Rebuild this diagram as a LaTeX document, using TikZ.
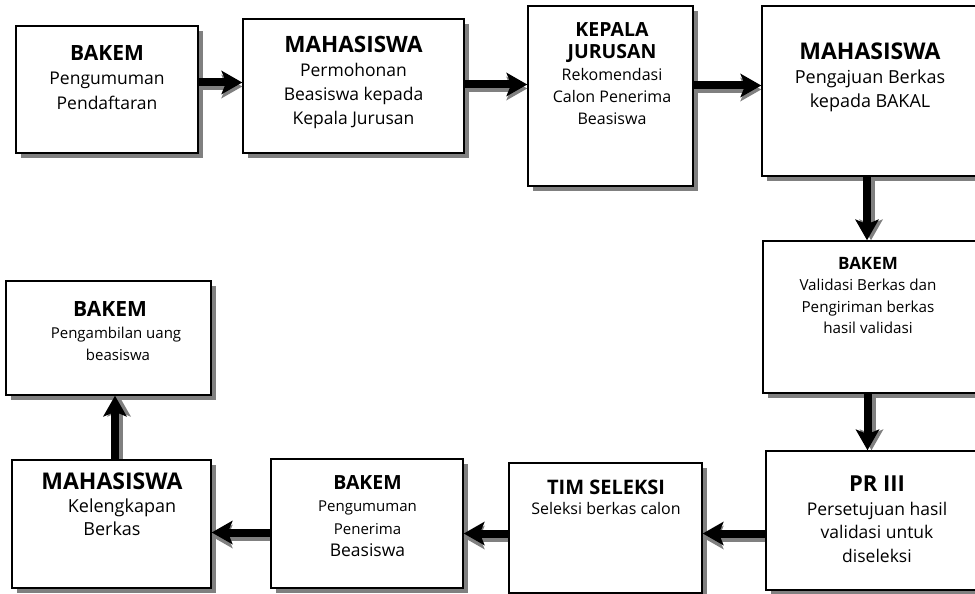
\documentclass[tikz,border=0pt]{standalone}
\usepackage{fontspec}
\setmainfont{Open Sans}
\usetikzlibrary{arrows.meta,shadows}
\newcommand\fsz[2]{\fontsize{#1}{#2}\selectfont}
\tikzset{
  stepbox/.style={draw=black, line width=1.6pt, fill=white, inner sep=0pt,
    drop shadow={shadow xshift=5pt, shadow yshift=-5pt, fill=black!50, opacity=1}},
  txt/.style={align=center, inner sep=0pt, anchor=north},
  flow/.style={line width=8pt,
    -{Stealth[length=21pt 0, width=24pt 0, inset=5pt 0, line width=0pt 0]}},
  flowshade/.style={flow, draw=black!50, fill=black!50, xshift=4pt, yshift=-4pt},
}
\begin{document}
\begin{tikzpicture}[x=1pt, y=-1pt]
\useasboundingbox (0,0) rectangle (975,594);
\clip (0,0) rectangle (975,594);

% process boxes
\node[stepbox, minimum width=182pt, minimum height=127pt] (b1)  at (107,89.5) {};
\node[stepbox, minimum width=221pt, minimum height=134pt] (b2)  at (353.5,86) {};
\node[stepbox, minimum width=165pt, minimum height=180pt] (b3)  at (610.5,96) {};
\node[stepbox, minimum width=216pt, minimum height=170pt] (b4)  at (870,91) {};
\node[stepbox, minimum width=214pt, minimum height=152pt] (b5)  at (870,317) {};
\node[stepbox, minimum width=222pt, minimum height=139pt] (b6)  at (877,520.5) {};
\node[stepbox, minimum width=193pt, minimum height=130pt] (b7)  at (605.5,528) {};
\node[stepbox, minimum width=192pt, minimum height=129pt] (b8)  at (367,523.5) {};
\node[stepbox, minimum width=199pt, minimum height=128pt] (b9)  at (111.5,524) {};
\node[stepbox, minimum width=205pt, minimum height=114pt] (b10) at (108.5,338) {};

% box texts
\node[txt, font=\fsz{17.5}{24.5}] (t1) at (107,45)
  {{\fsz{21}{24}\bfseries BAKEM}\\Pengumuman\\Pendaftaran};
\node[txt, font=\fsz{17.5}{24}] (t2) at (353.5,36)
  {{\fsz{22.5}{24}\bfseries MAHASISWA}\\Permohonan\\Beasiswa kepada\\Kepala Jurusan};
\node[txt, font=\fsz{16}{22}] (t3) at (612,22)
  {{\fsz{19.5}{22}\bfseries KEPALA}\\{\fsz{19.5}{22}\bfseries JURUSAN}\\Rekomendasi\\Calon Penerima\\Beasiswa};
\node[txt, font=\fsz{18}{24}] (t4) at (870,43)
  {{\fsz{23}{24}\bfseries MAHASISWA}\\Pengajuan Berkas\\kepada BAKAL};
\node[txt, font=\fsz{15.2}{21.5}] (t5) at (868,257)
  {{\fsz{17}{21.5}\bfseries BAKEM}\\Validasi Berkas dan\\Pengiriman berkas\\hasil validasi};
\node[txt, font=\fsz{17.5}{23.5}] (t6) at (877,476)
  {{\fsz{22}{23.5}\bfseries PR III}\\Persetujuan hasil\\validasi untuk\\diseleksi};
\node[txt, font=\fsz{16}{20}] (t7) at (606,480)
  {{\fsz{20}{20}\bfseries TIM SELEKSI}\\Seleksi berkas calon};
\node[txt, font=\fsz{15}{22.5}] (t8) at (367.5,475)
  {{\fsz{19.5}{22.5}\bfseries BAKEM}\\Pengumuman\\Penerima\\{\fsz{17.5}{22.5}Beasiswa}};
\node[txt, font=\fsz{18}{23}] (t9) at (112,473)
  {{\fsz{23}{23}\bfseries MAHASISWA}\\\hspace*{20pt}Kelengkapan\\Berkas};
\node[txt, font=\fsz{15}{22}] (t10) at (110,301)
  {{\fsz{21}{22}\bfseries BAKEM}\\\hspace*{12pt}Pengambilan uang\\\hspace*{16pt}beasiswa};

% connectors: shadow first, then the black arrow on top
\foreach \s in {flowshade, flow} {
  \draw[\s] (b1.east |- 0,82.5) -- (b2.west |- 0,82.5);
  \draw[\s] (b2.east |- 0,84.5) -- (b3.west |- 0,84.5);
  \draw[\s] (b3.east |- 0,85.5) -- (b4.west |- 0,85.5);
  \draw[\s] (b4.south -| 867,0) -- (b5.north -| 867,0);
  \draw[\s] (b5.south -| 867.5,0) -- (b6.north -| 867.5,0);
  \draw[\s] (b6.west |- 0,533.5) -- (b7.east |- 0,533.5);
  \draw[\s] (b7.west |- 0,533.5) -- (b8.east |- 0,533.5);
  \draw[\s] (b8.west |- 0,532.5) -- (b9.east |- 0,532.5);
  \draw[\s] (b9.north -| 115,0) -- (b10.south -| 115,0);
}
\end{tikzpicture}
\end{document}
